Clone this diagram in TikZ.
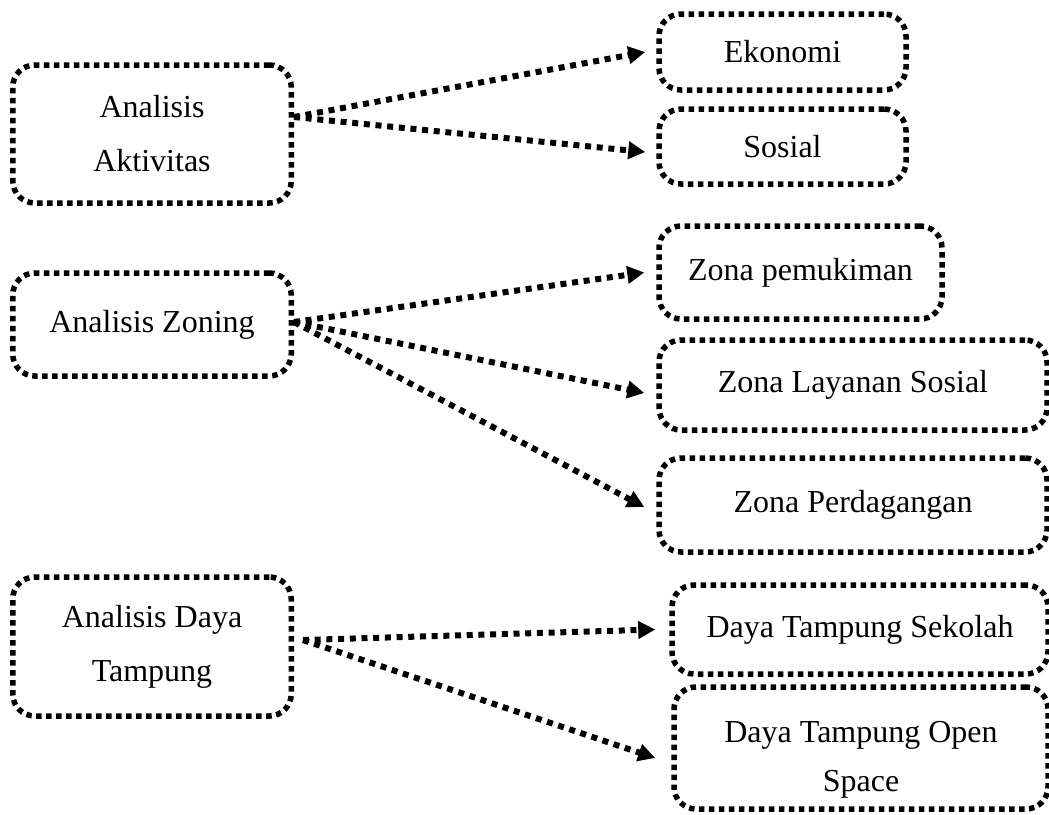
\documentclass[tikz,border=0pt]{standalone}
\usepackage{fontspec}
\setmainfont{Liberation Serif}
\usetikzlibrary{arrows.meta}
\tikzset{
  box/.style={draw=black, line width=5.5pt, dash pattern=on 5.5pt off 4.5pt,
    rounded corners=22pt, inner sep=0pt, align=center,
    font=\fontsize{32pt}{54pt}\selectfont},
  conn/.style={line width=6pt, dash pattern=on 6pt off 5.7pt,
    -{Triangle[length=17pt,width=17pt]}}
}
\begin{document}
\begin{tikzpicture}
\useasboundingbox (0pt,0pt) rectangle (1049pt,-814pt);
% left boxes
\node[box, minimum width=278.5pt, minimum height=138pt] (A1) at (152pt,-134pt) {Analisis\\Aktivitas};
\node[box, minimum width=278.5pt, minimum height=103pt] (A2) at (152pt,-324.5pt) {Analisis Zoning};
\node[box, minimum width=278.5pt, minimum height=139pt] (A3) at (152pt,-646.5pt) {Analisis Daya\\Tampung};
% right boxes
\node[box, minimum width=247pt, minimum height=76pt] (Ek) at (782.5pt,-52pt) {Ekonomi};
\node[box, minimum width=247pt, minimum height=75pt] (So) at (782.5pt,-146.5pt) {Sosial};
\node[box, minimum width=283pt, minimum height=93pt] (Zp) at (800.5pt,-272.5pt) {Zona pemukiman};
\node[box, minimum width=388pt, minimum height=90pt] (Zl) at (853pt,-385pt) {Zona Layanan Sosial};
\node[box, minimum width=388pt, minimum height=94pt] (Zd) at (853pt,-505pt) {Zona Perdagangan};
\node[box, minimum width=376pt, minimum height=89pt] (Ds) at (860pt,-629.5pt) {Daya Tampung Sekolah};
\node[box, minimum width=374pt, minimum height=122pt,
  label={[name=DoText, font=\fontsize{32pt}{49pt}\selectfont, align=center, yshift=-12pt]center:{Daya Tampung Open\\Space}}] (Do) at (861pt,-748pt) {};
% connectors
\draw[conn] ([yshift=17pt]A1.east) -- ([xshift=-11pt]Ek.west);
\draw[conn] ([yshift=17pt]A1.east) -- ([xshift=-11pt,yshift=-5.5pt]So.west);
\draw[conn] ([yshift=2.5pt]A2.east) -- ([xshift=-12pt]Zp.west);
\draw[conn] ([yshift=2.5pt]A2.east) -- ([xshift=-12pt,yshift=-8pt]Zl.west);
\draw[conn] ([yshift=2.5pt]A2.east) -- ([xshift=-12pt,yshift=-2pt]Zd.west);
\draw[conn] ([xshift=9pt,yshift=6.5pt]A3.east) -- ([xshift=-14pt]Ds.west);
\draw[conn] ([xshift=9pt,yshift=6.5pt]A3.east) -- ([xshift=-16pt,yshift=-10pt]Do.west);
\end{tikzpicture}
\end{document}
